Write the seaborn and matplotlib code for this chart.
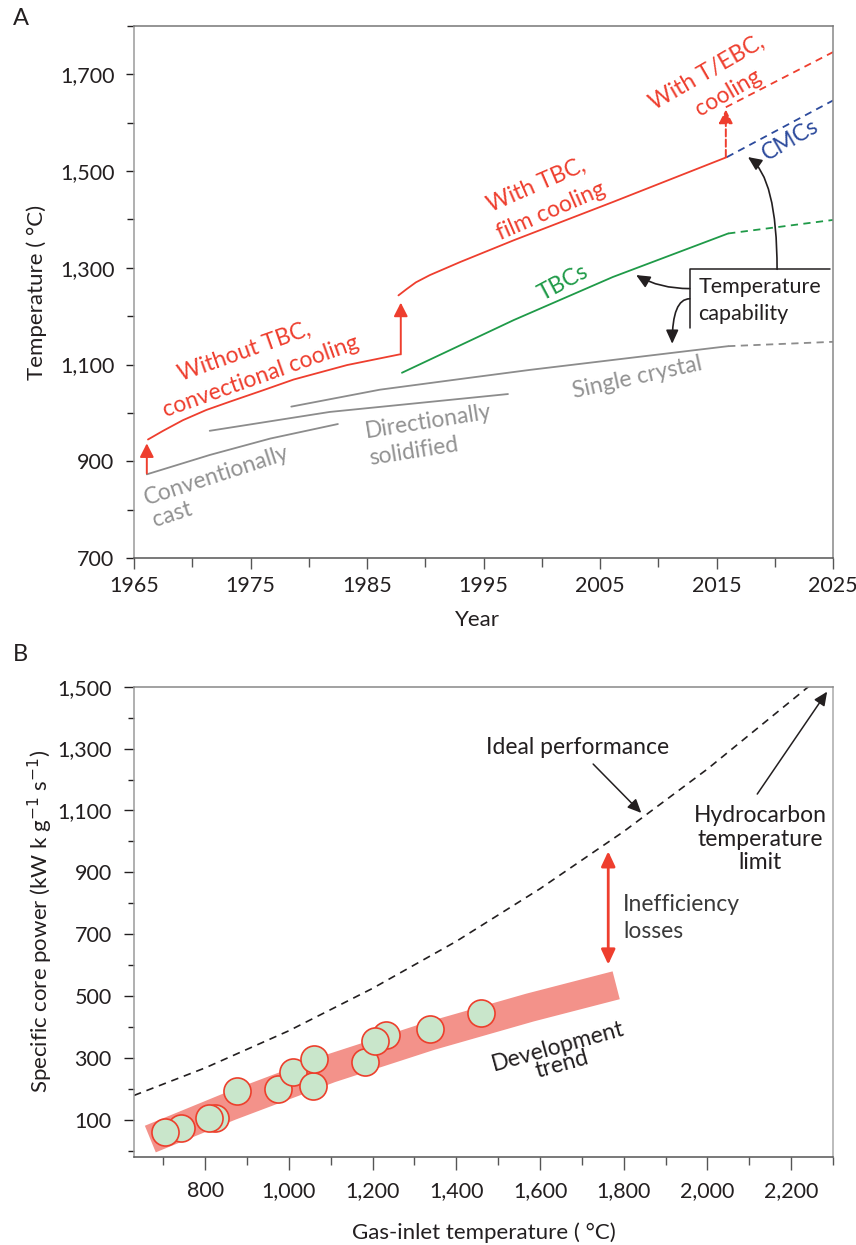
import matplotlib
matplotlib.use("Agg")
import matplotlib.pyplot as plt
import seaborn as sns
from matplotlib.ticker import MultipleLocator, FuncFormatter

# ---------------- Panel A data (year, temperature capability in deg C) ----------------
conv_cast_year = [1966.1, 1971.5, 1976.7, 1982.5]
conv_cast_temp = [873, 913, 947, 977]
dir_sol_year = [1971.5, 1981.8, 1997.1]
dir_sol_temp = [963, 1002, 1039]
single_xtal_year = [1978.5, 1986.1, 1993.3, 1999.0, 2016.0]
single_xtal_temp = [1013, 1048, 1071, 1089, 1138]
single_xtal_proj_year = [2016.0, 2025.0]
single_xtal_proj_temp = [1138, 1147]
tbc_year = [1988.0, 1997.6, 2006.1, 2016.0]
tbc_temp = [1083, 1192, 1281, 1371]
tbc_proj_year = [2016.0, 2025.0]
tbc_proj_temp = [1371, 1399]
conv_cool_year = [1966.2, 1967.5, 1969.2, 1971.2, 1973.2, 1976.1, 1978.7, 1983.3, 1987.8]
conv_cool_temp = [945, 963, 985, 1006, 1023, 1047, 1069, 1099, 1121]
film_cool_year = [1987.7, 1988.4, 1989.2, 1990.4, 1993.0, 1997.6, 2006.1, 2015.9]
film_cool_temp = [1243, 1256, 1270, 1285, 1312, 1357, 1436, 1529]
tebc_proj_year = [2015.8, 2025.0]
tebc_proj_temp = [1632, 1746]
cmc_proj_year = [2015.9, 2025.0]
cmc_proj_temp = [1529, 1646]

# ---------------- Panel B data ----------------
engine_gas_temp = [742, 704, 824, 810, 876, 975, 1011, 1057, 1061, 1181, 1231, 1206, 1338, 1459]
engine_power = [73, 60, 105, 107, 192, 200, 256, 211, 297, 286, 375, 354, 394, 446]
trend_temp = [669, 860, 1099, 1338, 1576, 1782]
trend_power = [38, 144, 266, 371, 463, 535]
ideal_temp = [630, 800, 1000, 1200, 1400, 1600, 1800, 2000, 2245]
ideal_power = [179, 268, 388, 525, 677, 847, 1032, 1234, 1504]

RED = "#ee3e2e"
GREEN = "#1f9a48"
BLUE = "#2c4a9c"
GRAY = "#8c8c8c"
GRAYTXT = "#929292"
DARK = "#231f20"

sns.set_style("ticks")
plt.rcParams["font.family"] = ["Lato", "DejaVu Sans"]
plt.rcParams["font.size"] = 15
plt.rcParams["text.color"] = DARK
plt.rcParams["axes.labelcolor"] = DARK
plt.rcParams["xtick.color"] = "#555555"
plt.rcParams["ytick.color"] = DARK
plt.rcParams["xtick.labelcolor"] = DARK
plt.rcParams["ytick.labelcolor"] = DARK

ANN = 16.5

fig = plt.figure(figsize=(8.56, 12.45), dpi=100)
axA = fig.add_axes([134 / 856, 1 - 558 / 1245, 699 / 856, 532 / 1245])
axB = fig.add_axes([134 / 856, 1 - 1157 / 1245, 699 / 856, 470.3 / 1245])

comma = FuncFormatter(lambda v, p: f"{int(round(v)):,}")


def line(ax, x, y, color, ls="-", lw=1.3, **kw):
    sns.lineplot(x=x, y=y, ax=ax, color=color, linestyle=ls, lw=lw,
                 sort=False, estimator=None, legend=False, **kw)


def rtext(ax, x, y, s, ang, color, size=ANN, **kw):
    ax.text(x, y, s, rotation=ang, rotation_mode="anchor", ha="center", va="center",
            color=color, fontsize=size, **kw)


# ======================= Panel A =======================
ax = axA
dash = (0, (4.0, 3.0))
line(ax, conv_cast_year, conv_cast_temp, GRAY)
line(ax, dir_sol_year, dir_sol_temp, GRAY)
line(ax, single_xtal_year, single_xtal_temp, GRAY)
line(ax, single_xtal_proj_year, single_xtal_proj_temp, GRAY, ls=dash)
line(ax, tbc_year, tbc_temp, GREEN)
line(ax, tbc_proj_year, tbc_proj_temp, GREEN, ls=dash)
line(ax, conv_cool_year, conv_cool_temp, RED)
line(ax, film_cool_year, film_cool_temp, RED)
line(ax, tebc_proj_year, tebc_proj_temp, RED, ls=dash)
line(ax, cmc_proj_year, cmc_proj_temp, BLUE, ls=dash)

red_head = "-|>,head_length=0.55,head_width=0.28"
ax.annotate("", xy=(1966.1, 937), xytext=(1966.1, 875),
            arrowprops=dict(arrowstyle=red_head, color=RED, lw=1.4, shrinkA=0, shrinkB=0))
ax.annotate("", xy=(1987.9, 1228), xytext=(1987.9, 1121),
            arrowprops=dict(arrowstyle=red_head, color=RED, lw=1.4, shrinkA=0, shrinkB=0))
ax.annotate("", xy=(2015.8, 1627), xytext=(2015.8, 1529),
            arrowprops=dict(arrowstyle=red_head, color=RED, lw=1.4, ls="--", shrinkA=0, shrinkB=0))

# Temperature capability box (top and left edges)
ax.plot([2012.7, 2012.7, 2024.75], [1174.6, 1296.7, 1296.7], color=DARK, lw=1.1)
ax.text(2013.45, 1260, "Temperature", ha="left", va="center", fontsize=15.5)
ax.text(2013.45, 1205, "capability", ha="left", va="center", fontsize=15.5)
blk_head = "-|>,head_length=0.55,head_width=0.25"
ax.annotate("", xy=(2017.7, 1529), xytext=(2020.2, 1297),
            arrowprops=dict(arrowstyle=blk_head, color=DARK, lw=1.2, shrinkA=0, shrinkB=0,
                            connectionstyle="angle3,angleA=90,angleB=-35"))
ax.annotate("", xy=(2008.1, 1285), xytext=(2012.7, 1257),
            arrowprops=dict(arrowstyle=blk_head, color=DARK, lw=1.2, shrinkA=0, shrinkB=0,
                            connectionstyle="angle3,angleA=0,angleB=-30"))
ax.annotate("", xy=(2011.2, 1143), xytext=(2012.7, 1236),
            arrowprops=dict(arrowstyle=blk_head, color=DARK, lw=1.2, shrinkA=0, shrinkB=0,
                            connectionstyle="angle3,angleA=180,angleB=90"))

rtext(ax, 1974.44, 1126, "Without TBC,", 19.5, RED)
rtext(ax, 1975.88, 1075, "convectional cooling", 19.5, RED)
rtext(ax, 1999.56, 1471, "With TBC,", 23.5, RED)
rtext(ax, 2000.78, 1417, "film cooling", 23.5, RED)
rtext(ax, 2014.2, 1703, "With T/EBC,", 30, RED)
rtext(ax, 2016.0, 1661, "cooling", 30, RED)
rtext(ax, 2021.3, 1564, "CMCs", 30, BLUE)
rtext(ax, 2001.85, 1269, "TBCs", 28, GREEN)
rtext(ax, 2008.2, 1073, "Single crystal", 12.4, GRAYTXT)
rtext(ax, 1990.3, 981, "Directionally", 9, GRAYTXT)
rtext(ax, 1989.03, 921, "solidified", 9, GRAYTXT)
rtext(ax, 1972.12, 871, "Conventionally", 18, GRAYTXT)
rtext(ax, 1968.3, 789, "cast", 18, GRAYTXT)

ax.set_xlim(1965, 2025)
ax.set_ylim(700, 1800)
ax.xaxis.set_minor_locator(MultipleLocator(5))
ax.yaxis.set_minor_locator(MultipleLocator(100))
ax.set_xticks([1965, 1975, 1985, 1995, 2005, 2015, 2025])
ax.yaxis.set_major_formatter(comma)
ax.set_yticks([700, 900, 1100, 1300, 1500, 1700])
ax.tick_params(axis="x", which="major", length=8, width=1, pad=5, labelsize=15.5)
ax.tick_params(axis="x", which="minor", length=6.5, width=1)
ax.tick_params(axis="y", which="major", length=6, width=1, pad=8, labelsize=15.5)
ax.tick_params(axis="y", which="minor", length=5, width=1)
ax.set_xlabel("Year", fontsize=16)
ax.set_ylabel("Temperature ( °C)", fontsize=16)
ax.xaxis.set_label_coords(0.492, -0.1165)
ax.xaxis.label.set_va("center")
ax.yaxis.set_label_coords(-0.1388, 0.5)
ax.yaxis.label.set_va("center")
for side, col in [("left", "#9a9a9a"), ("top", "#777777"), ("right", "#888888"), ("bottom", "#555555")]:
    ax.spines[side].set_visible(True)
    ax.spines[side].set_color(col)
    ax.spines[side].set_linewidth(1.1)

# ======================= Panel B =======================
ax = axB
sns.lineplot(x=trend_temp, y=trend_power, ax=ax, color="#f3928a", lw=20.7,
             sort=False, estimator=None, legend=False, solid_capstyle="butt",
             solid_joinstyle="round", zorder=1)
line(ax, ideal_temp, ideal_power, DARK, ls=(0, (4.5, 3.5)), lw=1.2, zorder=2)
sns.scatterplot(x=engine_gas_temp, y=engine_power, ax=ax, s=380, color="#c9e6cb",
                edgecolor="#ec3f2c", linewidth=1.2, zorder=3, legend=False)

ax.annotate("", xy=(1763, 968), xytext=(1763, 602),
            arrowprops=dict(arrowstyle="<|-|>,head_length=0.6,head_width=0.28", color=RED, lw=2.0,
                            shrinkA=0, shrinkB=0))
ax.annotate("", xy=(1842, 1092), xytext=(1727, 1250),
            arrowprops=dict(arrowstyle=blk_head, color=DARK, lw=1.1, shrinkA=0, shrinkB=0))
ax.annotate("", xy=(2286, 1484), xytext=(2119, 1153),
            arrowprops=dict(arrowstyle=blk_head, color=DARK, lw=1.1, shrinkA=0, shrinkB=0))
ax.text(1689, 1302, "Ideal performance", ha="center", va="center", fontsize=ANN)
ax.text(2126, 1007, "Hydrocarbon\ntemperature\nlimit", ha="center", va="center",
        multialignment="center", fontsize=ANN, linespacing=1.15)
ax.text(1799, 797, "Inefficiency", ha="left", va="center", fontsize=ANN, color="#3a3a3a")
ax.text(1799, 709, "losses", ha="left", va="center", fontsize=ANN, color="#3a3a3a")
rtext(ax, 1642, 338, "Development", 15.5, DARK)
rtext(ax, 1652, 278, "trend", 15.5, DARK)

ax.set_xlim(630, 2300)
ax.set_ylim(-20, 1500)
ax.set_xticks([800, 1000, 1200, 1400, 1600, 1800, 2000, 2200])
ax.xaxis.set_minor_locator(MultipleLocator(100))
ax.set_yticks([100, 300, 500, 700, 900, 1100, 1300, 1500])
ax.yaxis.set_minor_locator(MultipleLocator(100))
ax.xaxis.set_major_formatter(comma)
ax.yaxis.set_major_formatter(comma)
ax.tick_params(axis="x", which="major", length=9.5, width=1, pad=8, labelsize=15.5)
ax.tick_params(axis="x", which="minor", length=6, width=1)
ax.tick_params(axis="y", which="major", length=7, width=1, pad=9, labelsize=15.5)
ax.tick_params(axis="y", which="minor", length=4.5, width=1)
ax.set_xlabel("Gas-inlet temperature ( °C)", fontsize=16)
ax.set_ylabel("Specific core power (kW k g$^{-1}$ s$^{-1}$)", fontsize=16)
ax.xaxis.set_label_coords(0.5007, -0.1616)
ax.xaxis.label.set_va("center")
ax.yaxis.set_label_coords(-0.1345, 0.5)
ax.yaxis.label.set_va("center")
for side, col in [("left", "#9a9a9a"), ("top", "#888888"), ("right", "#aaaaaa"), ("bottom", "#555555")]:
    ax.spines[side].set_visible(True)
    ax.spines[side].set_color(col)
    ax.spines[side].set_linewidth(1.1)

fig.text(20.5 / 856, 1 - 18.5 / 1245, "A", ha="center", va="center", fontsize=17)
fig.text(20 / 856, 1 - 654.5 / 1245, "B", ha="center", va="center", fontsize=17)

fig.savefig("out.png", dpi=100)
